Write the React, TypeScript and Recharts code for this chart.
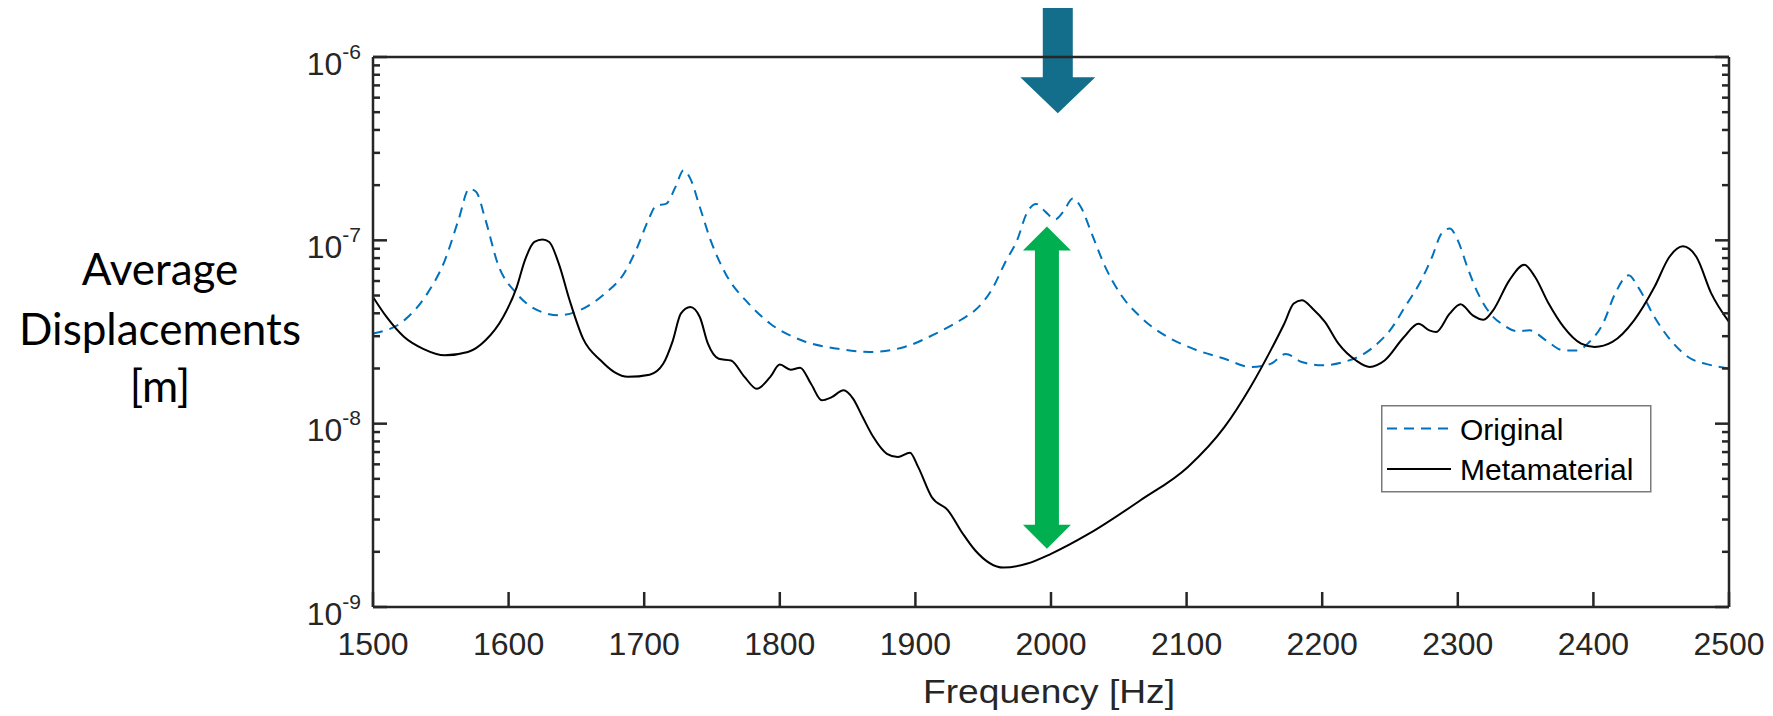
import React from 'react';
import { LineChart, Line, XAxis, YAxis, Legend, ReferenceLine } from 'recharts';

// frequency [Hz] and average displacement [m]
const originalFreq = [
  1500, 1523, 1540, 1553, 1563, 1571, 1576, 1583, 1592, 1606, 1619, 1637, 1655, 1671, 1685, 1695,
  1703, 1709, 1716, 1723, 1729, 1734, 1741, 1749, 1760, 1777, 1793, 1816, 1843, 1866, 1892, 1915,
  1934, 1944, 1956, 1967, 1975, 1982, 1989, 1996, 2003, 2009, 2016, 2022, 2030, 2040, 2051, 2066,
  2086, 2105, 2128, 2147, 2162, 2173, 2185, 2200, 2216, 2231, 2242, 2250, 2261, 2273, 2281, 2288,
  2294, 2300, 2307, 2315, 2324, 2334, 2344, 2353, 2365, 2378, 2388, 2397, 2407, 2416, 2426, 2433,
  2445, 2456, 2472, 2483, 2500,
];
const originalDisp = [
  3.1e-8, 3.66e-8, 5.12e-8, 7.78e-8, 1.29e-7, 1.91e-7, 1.84e-7, 1.29e-7, 7.46e-8, 5.12e-8, 4.24e-8, 3.9e-8, 4.24e-8, 5.12e-8, 6.58e-8, 9.2e-8,
  1.29e-7, 1.55e-7, 1.58e-7, 1.95e-7, 2.41e-7, 2.17e-7, 1.52e-7, 1.0e-7, 6.58e-8, 4.52e-8, 3.51e-8, 2.85e-8, 2.56e-8, 2.46e-8, 2.62e-8, 3.1e-8,
  3.7e-8, 4.15e-8, 5.33e-8, 7.78e-8, 1.0e-7, 1.4e-7, 1.58e-7, 1.43e-7, 1.3e-7, 1.43e-7, 1.69e-7, 1.52e-7, 1.09e-7, 7.16e-8, 5.12e-8, 3.82e-8,
  2.97e-8, 2.56e-8, 2.26e-8, 2.04e-8, 2.12e-8, 2.4e-8, 2.17e-8, 2.08e-8, 2.17e-8, 2.41e-8, 2.79e-8, 3.23e-8, 4.33e-8, 6.05e-8, 8.11e-8, 1.09e-7,
  1.16e-7, 1.0e-7, 7.16e-8, 5.12e-8, 3.98e-8, 3.44e-8, 3.19e-8, 3.23e-8, 2.85e-8, 2.51e-8, 2.51e-8, 2.79e-8, 3.51e-8, 5.12e-8, 6.44e-8, 5.56e-8,
  3.82e-8, 2.91e-8, 2.26e-8, 2.12e-8, 2.0e-8,
];

const metaFreq = [
  1500, 1510, 1523, 1537, 1553, 1570, 1583, 1596, 1606, 1612, 1619, 1625, 1630, 1637, 1645, 1655,
  1668, 1678, 1688, 1704, 1714, 1721, 1727, 1734, 1741, 1747, 1755, 1764, 1774, 1783, 1793, 1800,
  1808, 1815, 1823, 1831, 1838, 1847, 1854, 1861, 1869, 1879, 1887, 1896, 1902, 1912, 1924, 1935,
  1944, 1965, 1982, 2000, 2028, 2066, 2101, 2128, 2147, 2162, 2172, 2179, 2185, 2193, 2202, 2212,
  2225, 2235, 2246, 2260, 2271, 2279, 2284, 2294, 2302, 2311, 2319, 2326, 2338, 2349, 2357, 2367,
  2378, 2391, 2401, 2414, 2430, 2445, 2456, 2466, 2476, 2487, 2500,
];
const metaDisp = [
  4.91e-8, 3.82e-8, 2.97e-8, 2.56e-8, 2.36e-8, 2.46e-8, 2.85e-8, 3.82e-8, 5.56e-8, 7.78e-8, 9.8e-8, 1.01e-7, 9.8e-8, 7.46e-8, 4.71e-8, 2.9e-8,
  2.21e-8, 1.91e-8, 1.8e-8, 1.85e-8, 2.12e-8, 2.82e-8, 3.98e-8, 4.33e-8, 3.82e-8, 2.73e-8, 2.26e-8, 2.21e-8, 1.8e-8, 1.55e-8, 1.8e-8, 2.1e-8,
  1.97e-8, 2.02e-8, 1.65e-8, 1.34e-8, 1.39e-8, 1.52e-8, 1.37e-8, 1.09e-8, 8.45e-9, 6.85e-9, 6.58e-9, 6.95e-9, 5.81e-9, 3.98e-9, 3.37e-9, 2.51e-9,
  2.04e-9, 1.64e-9, 1.72e-9, 1.95e-9, 2.51e-9, 3.82e-9, 5.81e-9, 9.6e-9, 1.58e-8, 2.51e-8, 3.51e-8, 4.52e-8, 4.71e-8, 4.24e-8, 3.59e-8, 2.73e-8,
  2.21e-8, 2.04e-8, 2.21e-8, 2.95e-8, 3.51e-8, 3.23e-8, 3.16e-8, 3.98e-8, 4.48e-8, 3.9e-8, 3.69e-8, 4.15e-8, 6.05e-8, 7.36e-8, 6.31e-8, 4.52e-8,
  3.37e-8, 2.73e-8, 2.62e-8, 2.79e-8, 3.66e-8, 5.56e-8, 8.11e-8, 9.27e-8, 8.11e-8, 5.12e-8, 3.59e-8,
];

const seriesNames = ['Original', 'Metamaterial'];
const freqTicks = [1500, 1600, 1700, 1800, 1900, 2000, 2100, 2200, 2300, 2400, 2500];
const dispTicks = [
  1e-9, 2e-9, 3e-9, 4e-9, 5e-9, 6e-9, 7e-9, 8e-9, 9e-9,
  1e-8, 2e-8, 3e-8, 4e-8, 5e-8, 6e-8, 7e-8, 8e-8, 9e-8,
  1e-7, 2e-7, 3e-7, 4e-7, 5e-7, 6e-7, 7e-7, 8e-7, 9e-7,
  1e-6,
];

// annotation arrows: [frequency, start value, end value]
const dropArrow = [2005, 1.85e-6, 4.93e-7];
const gapArrow = [1997, 1.19e-7, 2.08e-9];

const originalData = originalFreq.map((f, i) => ({ f, v: originalDisp[i] }));
const metaData = metaFreq.map((f, i) => ({ f, v: metaDisp[i] }));

const AXIS = '#262626';
const BLUE = '#0072BD';
const DASH = '10 7';
const FONT = "'Liberation Sans', Arial, Helvetica, sans-serif";

const isDecade = (v: number) => Math.abs(Math.log10(v) - Math.round(Math.log10(v))) < 1e-6;

const BottomTick = ({ x, y, payload }: any) => (
  <g>
    <line x1={x} y1={y} x2={x} y2={y - 15} stroke={AXIS} strokeWidth={2.5} />
    <text x={x} y={y + 47.5} textAnchor="middle" fontSize={32} fontFamily={FONT} fill={AXIS}>
      {payload.value}
    </text>
  </g>
);

const TopTick = ({ x, y }: any) => (
  <line x1={x} y1={y} x2={x} y2={y + 15} stroke={AXIS} strokeWidth={2.5} />
);

const LeftTick = ({ x, y, payload }: any) => {
  const major = isDecade(payload.value);
  return (
    <g>
      <line x1={x} y1={y} x2={x + (major ? 14 : 7)} y2={y} stroke={AXIS} strokeWidth={2.5} />
      {major && (
        <text x={x - 12} y={y} textAnchor="end" fontFamily={FONT} fill={AXIS}>
          <tspan fontSize={32} dy={17.8}>10</tspan>
          <tspan fontSize={21} dy={-16}>{Math.round(Math.log10(payload.value))}</tspan>
        </text>
      )}
    </g>
  );
};

const RightTick = ({ x, y, payload }: any) => {
  const major = isDecade(payload.value);
  return <line x1={x} y1={y} x2={x - (major ? 14 : 7)} y2={y} stroke={AXIS} strokeWidth={2.5} />;
};

const DownArrow = ({ x1, y1, y2 }: any) => {
  const pts = [
    [x1 - 15, y1], [x1 + 15, y1], [x1 + 15, y2 - 36], [x1 + 37.5, y2 - 36],
    [x1, y2], [x1 - 37.5, y2 - 36], [x1 - 15, y2 - 36],
  ];
  return <polygon points={pts.map((p) => p.join(',')).join(' ')} fill="#126E8A" />;
};

const DoubleArrow = ({ x1, y1, y2 }: any) => {
  const pts = [
    [x1, y1], [x1 + 24, y1 + 24], [x1 + 12, y1 + 24], [x1 + 12, y2 - 24], [x1 + 24, y2 - 24],
    [x1, y2], [x1 - 24, y2 - 24], [x1 - 12, y2 - 24], [x1 - 12, y1 + 24], [x1 - 24, y1 + 24],
  ];
  return <polygon points={pts.map((p) => p.join(',')).join(' ')} fill="#00B050" />;
};

const YLabel = ({ viewBox }: any) => {
  const cx = viewBox.x - 93;
  return (
    <text textAnchor="middle" fontSize={44} fontFamily="Lato, 'Open Sans', sans-serif" fill="#000">
      <tspan x={cx} y={viewBox.y + 228}>Average</tspan>
      <tspan x={cx} y={viewBox.y + 288}>Displacements</tspan>
      <tspan x={cx} y={viewBox.y + 345}>[m]</tspan>
    </text>
  );
};

const XLabel = ({ viewBox }: any) => (
  <text
    x={viewBox.x + viewBox.width / 2 - 2}
    y={viewBox.y + 96}
    textAnchor="middle"
    fontSize={33}
    textLength={252}
    lengthAdjust="spacingAndGlyphs"
    fontFamily={FONT}
    fill={AXIS}
  >
    Frequency [Hz]
  </text>
);

const LegendBox = ({ payload }: any) => {
  const items = seriesNames
    .map((name) => (payload || []).find((e: any) => e.value === name))
    .filter(Boolean);
  return (
    <svg width={271} height={88} style={{ display: 'block' }}>
      <rect x={0.75} y={0.75} width={269} height={86} fill="#fff" stroke="#7a7a7a" strokeWidth={1.5} />
      {items.map((entry: any, i: number) => {
        const dash = entry.payload?.strokeDasharray;
        return (
          <g key={entry.value}>
            <line
              x1={6}
              y1={23.5 + i * 40.5}
              x2={dash ? 68 : 70}
              y2={23.5 + i * 40.5}
              stroke={entry.color}
              strokeWidth={2}
              strokeDasharray={dash}
            />
            <text x={79} y={35 + i * 39.5} fontSize={30} fontFamily={FONT} fill="#000">
              {entry.value}
            </text>
          </g>
        );
      })}
    </svg>
  );
};

export default function App() {
  return (
    <div style={{ position: 'absolute', left: 0, top: 0, width: 1773, height: 716, background: '#fff' }}>
      <LineChart width={1773} height={716} margin={{ top: 47, right: 24, bottom: 49, left: 253 }}>
        <XAxis
          dataKey="f"
          type="number"
          domain={[1500, 2500]}
          ticks={freqTicks}
          interval={0}
          allowDataOverflow
          height={60}
          tickSize={0}
          tickMargin={0}
          tickLine={false}
          axisLine={{ stroke: AXIS, strokeWidth: 2.5 }}
          tick={<BottomTick />}
          label={<XLabel />}
        />
        <XAxis
          xAxisId="top"
          orientation="top"
          type="number"
          domain={[1500, 2500]}
          ticks={freqTicks}
          interval={0}
          allowDataOverflow
          height={10}
          tickSize={0}
          tickMargin={0}
          tickLine={false}
          axisLine={{ stroke: AXIS, strokeWidth: 2.5 }}
          tick={<TopTick />}
        />
        <YAxis
          dataKey="v"
          scale="log"
          type="number"
          domain={[1e-9, 1e-6]}
          ticks={dispTicks}
          interval={0}
          allowDataOverflow
          width={120}
          tickSize={0}
          tickMargin={0}
          tickLine={false}
          axisLine={{ stroke: AXIS, strokeWidth: 2.5 }}
          tick={<LeftTick />}
          label={<YLabel />}
        />
        <YAxis
          yAxisId="right"
          orientation="right"
          scale="log"
          type="number"
          domain={[1e-9, 1e-6]}
          ticks={dispTicks}
          interval={0}
          allowDataOverflow
          width={20}
          tickSize={0}
          tickMargin={0}
          tickLine={false}
          axisLine={{ stroke: AXIS, strokeWidth: 2.5 }}
          tick={<RightTick />}
        />
        <Legend
          layout="horizontal"
          verticalAlign="middle"
          align="center"
          content={<LegendBox />}
          wrapperStyle={{ position: 'absolute', left: 1381, top: 405, width: 271, height: 88 }}
        />
        <Line
          data={originalData}
          dataKey="v"
          name={seriesNames[0]}
          type="monotone"
          stroke={BLUE}
          strokeWidth={2}
          strokeDasharray={DASH}
          dot={false}
          isAnimationActive={false}
        />
        <Line
          data={metaData}
          dataKey="v"
          name={seriesNames[1]}
          type="monotone"
          stroke="#000"
          strokeWidth={2}
          dot={false}
          isAnimationActive={false}
        />
        <ReferenceLine
          segment={[{ x: gapArrow[0], y: gapArrow[1] }, { x: gapArrow[0], y: gapArrow[2] }]}
          ifOverflow="visible"
          shape={(p: any) => <DoubleArrow {...p} />}
        />
        <ReferenceLine
          segment={[{ x: dropArrow[0], y: dropArrow[1] }, { x: dropArrow[0], y: dropArrow[2] }]}
          ifOverflow="visible"
          shape={(p: any) => <DownArrow {...p} />}
        />
      </LineChart>
    </div>
  );
}
